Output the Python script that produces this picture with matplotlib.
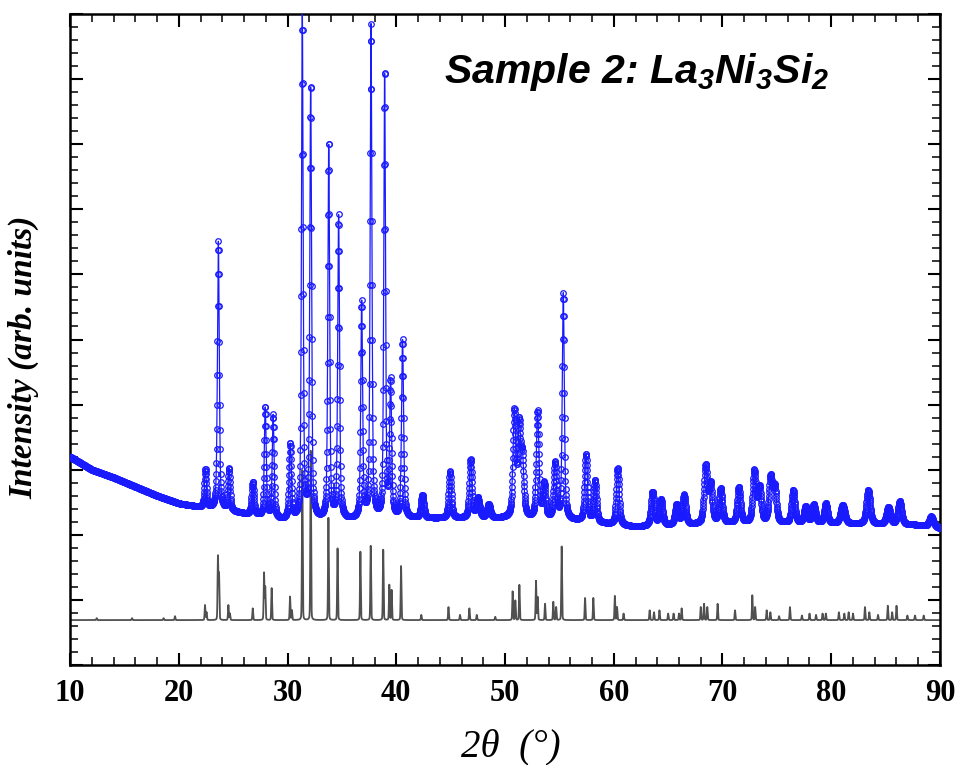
import numpy as np
import matplotlib
matplotlib.use("Agg")
import matplotlib.pyplot as plt
from matplotlib.ticker import MultipleLocator

# ---- data ----
# background under the measured pattern (2theta, intensity)
bg_theta = [10, 12, 14, 16, 18, 20, 22, 25, 29.5, 35, 42, 44, 50, 56, 62, 70, 80, 88, 90]
bg_int = [3.2, 3.0, 2.88, 2.74, 2.6, 2.48, 2.42, 2.35, 2.22, 2.22, 2.25, 2.25, 2.25,
          2.22, 2.12, 2.17, 2.17, 2.15, 2.1]

# measured peaks: position, top intensity, fwhm
obs_pos = [22.45, 23.64, 24.62, 26.8, 27.95, 28.68, 30.25, 31.36, 32.13, 33.79,
           34.7, 36.82, 37.68, 38.93, 39.48, 40.58, 42.4, 44.94, 46.84, 47.5,
           48.5, 50.86, 51.3, 51.6, 53.0, 53.6, 54.6, 55.36, 57.45, 58.28,
           60.36, 63.57, 64.34, 65.78, 66.46, 68.45, 68.9, 69.83, 71.5, 72.92,
           73.4, 74.42, 74.8, 76.5, 77.64, 78.4, 79.5, 81.05, 83.4, 85.25,
           86.3, 89.2]
obs_top = [3.0, 6.5, 3.0, 2.8, 3.95, 3.82, 3.37, 10.0, 8.86, 8.0,
           6.87, 5.54, 9.8, 9.08, 4.3, 4.97, 2.6, 2.97, 3.15, 2.55,
           2.45, 3.85, 3.6, 3.1, 3.87, 2.75, 3.08, 5.69, 3.22, 2.82,
           3.02, 2.65, 2.53, 2.45, 2.6, 3.04, 2.75, 2.69, 2.72, 2.96,
           2.7, 2.86, 2.7, 2.68, 2.42, 2.46, 2.48, 2.45, 2.69, 2.42,
           2.51, 2.28]
obs_fwhm = [0.22, 0.2, 0.22, 0.25, 0.2, 0.2, 0.25, 0.18, 0.19, 0.19,
            0.2, 0.2, 0.19, 0.18, 0.22, 0.22, 0.3, 0.28, 0.28, 0.35,
            0.35, 0.3, 0.3, 0.3, 0.28, 0.3, 0.3, 0.22, 0.3, 0.3,
            0.3, 0.35, 0.35, 0.35, 0.35, 0.35, 0.35, 0.35, 0.35, 0.35,
            0.35, 0.35, 0.35, 0.35, 0.35, 0.35, 0.35, 0.45, 0.4, 0.4,
            0.4, 0.45]

# reference (calculated) pattern: baseline, positions, heights above baseline
ref_base = 0.69
ref_pos = [12.45, 15.7, 18.6, 19.65, 22.41, 22.55, 23.6, 23.7, 24.56, 24.7,
           26.8, 27.84, 27.95, 28.54, 30.23, 30.4, 31.36, 32.13, 33.76, 34.6,
           36.7, 37.65, 38.8, 39.36, 39.57, 40.44, 42.3, 44.8, 45.86, 46.72,
           47.4, 49.1, 50.7, 50.95, 51.32, 52.85, 53.0, 53.68, 54.44, 54.7,
           55.21, 57.36, 58.12, 60.1, 60.3, 60.9, 63.3, 63.7, 64.2, 65.0,
           65.5, 66.0, 66.24, 68.0, 68.3, 68.6, 69.55, 71.15, 72.74, 73.0,
           74.06, 74.4, 75.2, 76.2, 77.3, 78.0, 78.6, 79.2, 79.5, 80.7,
           81.2, 81.6, 82.0, 83.1, 83.5, 84.3, 85.2, 85.6, 86.0, 87.0,
           87.7, 88.5]
ref_h = [0.03, 0.03, 0.03, 0.06, 0.23, 0.12, 0.97, 0.7, 0.23, 0.1,
         0.18, 0.72, 0.5, 0.49, 0.36, 0.15, 2.3, 2.6, 1.57, 1.1,
         1.05, 1.14, 1.08, 0.54, 0.46, 0.83, 0.08, 0.2, 0.08, 0.18,
         0.08, 0.05, 0.44, 0.3, 0.54, 0.6, 0.35, 0.25, 0.28, 0.2,
         1.13, 0.34, 0.34, 0.37, 0.2, 0.1, 0.15, 0.12, 0.15, 0.1,
         0.1, 0.1, 0.18, 0.2, 0.25, 0.2, 0.25, 0.15, 0.38, 0.2,
         0.15, 0.12, 0.06, 0.2, 0.07, 0.1, 0.08, 0.1, 0.1, 0.12,
         0.1, 0.12, 0.1, 0.2, 0.12, 0.08, 0.22, 0.12, 0.22, 0.07,
         0.07, 0.07]
ref_fwhm = 0.08


def pvoigt(x, x0, fwhm, eta):
    g = np.exp(-4 * np.log(2) * ((x - x0) / fwhm) ** 2)
    l = 1.0 / (1.0 + 4 * ((x - x0) / fwhm) ** 2)
    return eta * l + (1 - eta) * g


# measured profile built from the read peaks on the read background
tt = np.arange(10.0, 90.0001, 0.02)
bg = np.interp(tt, bg_theta, bg_int)
obs = bg.copy()
for p, top, w in zip(obs_pos, obs_top, obs_fwhm):
    amp = top - np.interp(p, bg_theta, bg_int)
    obs += amp * pvoigt(tt, p, w, 0.5)

tt_ref = np.arange(10.0, 90.0001, 0.01)
ref = np.full_like(tt_ref, ref_base)
for p, h in zip(ref_pos, ref_h):
    ref += h * pvoigt(tt_ref, p, ref_fwhm, 0.2)

# ---- figure ----
plt.rcParams["mathtext.fontset"] = "custom"
plt.rcParams["mathtext.rm"] = "Liberation Sans:italic:bold"
plt.rcParams["mathtext.it"] = "Liberation Sans:italic:bold"

fig = plt.figure(figsize=(9.58, 7.65), dpi=100)
ax = fig.add_axes([0.0731, 0.1307, 0.9081, 0.8510])

ax.plot(tt_ref, ref, color="#505050", lw=1.3, zorder=2)
ax.plot(tt, obs, color="#1a1aff", lw=0.9, marker="o", ms=4.0, mfc="none",
        mew=0.9, zorder=3)

ax.set_xlim(10, 90)
ax.set_ylim(0, 10)
ax.xaxis.set_major_locator(MultipleLocator(10))
ax.xaxis.set_minor_locator(MultipleLocator(2))
ax.yaxis.set_major_locator(MultipleLocator(1))
ax.yaxis.set_minor_locator(MultipleLocator(0.2))
ax.tick_params(which="both", direction="in", top=True, right=True, colors="black")
ax.tick_params(which="major", length=9, width=1.5, pad=10)
ax.tick_params(which="minor", length=5.5, width=1.1)
ax.set_yticklabels([])
for s in ax.spines.values():
    s.set_linewidth(1.8)

for lab in ax.get_xticklabels():
    lab.set_fontfamily("Liberation Serif")
    lab.set_fontweight("bold")
    lab.set_fontsize(22)

ax.set_xlabel("2θ  (°)", family="Liberation Serif", style="italic", fontsize=28)
ax.xaxis.set_label_coords(0.507, -0.097)
ax.xaxis.label.set_va("top")
ax.set_ylabel("Intensity (arb. units)", family="Liberation Serif", style="italic",
              weight="bold", fontsize=24)
ax.yaxis.set_label_coords(-0.035, 0.473)

ax.text(0.652, 0.911, "Sample 2: La$_3$Ni$_3$Si$_2$", transform=ax.transAxes,
        ha="center", va="center", family="Liberation Sans", style="italic",
        weight="bold", fontsize=29.5)

fig.savefig("out.png", dpi=100)
